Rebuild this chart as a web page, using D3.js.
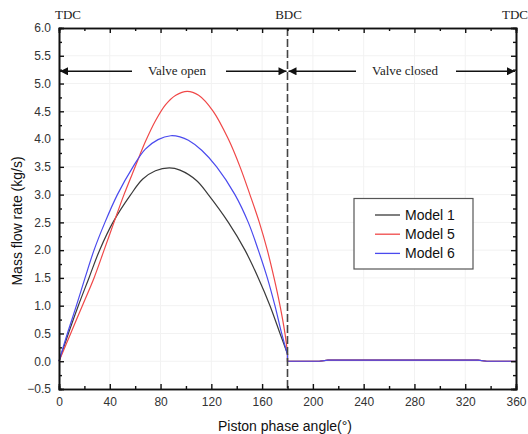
<!DOCTYPE html>
<html><head><meta charset="utf-8">
<script src="https://cdn.jsdelivr.net/npm/d3@7"></script>
<style>body{margin:0;background:#fff}svg{display:block}</style>
</head><body>
<svg id="c" width="528" height="434"></svg>
<script>
// ---- data (angle in degrees, mass flow rate in kg/s) ----
const model1 = [[0,0],[7.4,0.5],[15.2,1.0],[23.6,1.5],[32,2.0],[42.5,2.5],[56.5,3.0],[66,3.28],[76,3.43],[87,3.48],[95.3,3.44],[108.5,3.25],[117.6,3.0],[133.4,2.5],[146.5,2.0],[157,1.5],[166.2,1.0],[174.1,0.5],[180,0.13]];
const model5 = [[0,0],[9.2,0.5],[18.4,1.0],[27.6,1.5],[35.5,2.0],[43.3,2.5],[51.2,3.0],[60,3.5],[68,3.95],[76,4.33],[84,4.62],[92,4.79],[101,4.86],[110,4.79],[121.5,4.5],[133.4,4.0],[142.6,3.5],[150.4,3.0],[157.8,2.5],[164.1,2.0],[169.4,1.5],[174.1,1.0],[178,0.5],[180,0.15]];
const model6 = [[0,0],[6.6,0.5],[13.7,1.0],[20.5,1.5],[27.6,2.0],[36.2,2.5],[46,3.0],[58.3,3.5],[68,3.82],[78,3.99],[88,4.06],[95.3,4.04],[101.9,3.98],[112.4,3.8],[124.2,3.5],[138.6,3.0],[149.1,2.5],[157,2.0],[164.1,1.5],[170.1,1.0],[175.4,0.5],[180,0.12]];
const closedPhase = [[180,0],[205,0],[212,0.02],[330,0.02],[337,0],[360,0]];
const seriesNames = ["Model 1","Model 5","Model 6"];
const seriesColors = ["#3a3a3a","#f04848","#4a4aee"];
const xTicks = [0,40,80,120,160,200,240,280,320,360];
const yTicks = [-0.5,0,0.5,1,1.5,2,2.5,3,3.5,4,4.5,5,5.5,6];
const xDomain = [0,360], yDomain = [-0.5,6];
const bdcAngle = 180, arrowLevel = 5.22;

// ---- layout ----
const W=528,H=434, m={l:59,r:12,t:28,b:45};
const svg=d3.select("#c");
const x=d3.scaleLinear().domain(xDomain).range([m.l,W-m.r]);
const y=d3.scaleLinear().domain(yDomain).range([H-m.b,m.t]);
const sans="'Liberation Sans', Arial, sans-serif", serif="'Liberation Serif','Times New Roman',serif";

// faint grid
const g=svg.append("g");
g.selectAll("line.gx").data(xTicks.slice(1,-1)).join("line").attr("x1",d=>x(d)).attr("x2",d=>x(d)).attr("y1",m.t).attr("y2",H-m.b).attr("stroke","#f2f2f2");
g.selectAll("line.gy").data(yTicks.slice(1,-1)).join("line").attr("y1",d=>y(d)).attr("y2",d=>y(d)).attr("x1",m.l).attr("x2",W-m.r).attr("stroke","#f2f2f2");

const xMinor=d3.range(20,360,40), yMinor=d3.range(-0.25,6,0.5);
function axisSet(){
  const ax=svg.append("g");
  ax.append("g").attr("transform",`translate(0,${H-m.b})`).call(d3.axisBottom(x).tickValues(xTicks).tickSize(-5).tickPadding(8).tickFormat(d3.format("d")));
  ax.append("g").attr("transform",`translate(0,${H-m.b})`).call(d3.axisBottom(x).tickValues(xMinor).tickSize(-3).tickFormat(""));
  ax.append("g").attr("transform",`translate(0,${m.t})`).call(d3.axisTop(x).tickValues(xTicks).tickSize(-5).tickFormat(""));
  ax.append("g").attr("transform",`translate(0,${m.t})`).call(d3.axisTop(x).tickValues(xMinor).tickSize(-3).tickFormat(""));
  ax.append("g").attr("transform",`translate(${m.l},0)`).call(d3.axisLeft(y).tickValues(yTicks).tickSize(-5).tickPadding(8).tickFormat(d3.format(".1f")));
  ax.append("g").attr("transform",`translate(${m.l},0)`).call(d3.axisLeft(y).tickValues(yMinor).tickSize(-3).tickFormat(""));
  ax.append("g").attr("transform",`translate(${W-m.r},0)`).call(d3.axisRight(y).tickValues(yTicks).tickSize(-5).tickFormat(""));
  ax.append("g").attr("transform",`translate(${W-m.r},0)`).call(d3.axisRight(y).tickValues(yMinor).tickSize(-3).tickFormat(""));
  ax.selectAll(".domain").attr("stroke","#111").attr("stroke-width",1.6);
  ax.selectAll(".tick line").attr("stroke","#111").attr("stroke-width",1.4);
  ax.selectAll(".tick text").attr("font-family",sans).attr("font-size",12).attr("fill","#333");
}

// curves
const line=d3.line().x(d=>x(d[0])).y(d=>y(d[1])).curve(d3.curveCatmullRom.alpha(0.5));
const lin=d3.line().x(d=>x(d[0])).y(d=>y(d[1]));
[model1,model5,model6].forEach((s,i)=>{
  svg.append("path").attr("d",line(s)).attr("fill","none").attr("stroke",seriesColors[i]).attr("stroke-width",1.2);
  svg.append("path").attr("d",lin([s[s.length-1]].concat(closedPhase))).attr("fill","none").attr("stroke",seriesColors[i]).attr("stroke-width",1.2);
});

// BDC dashed line
svg.append("line").attr("x1",x(bdcAngle)).attr("x2",x(bdcAngle)).attr("y1",m.t).attr("y2",H-m.b)
  .attr("stroke","#444").attr("stroke-width",1.6).attr("stroke-dasharray","8,3");

axisSet();

// arrows
const defs=svg.append("defs");
defs.append("marker").attr("id","ah").attr("viewBox","0 0 10 10").attr("refX",10).attr("refY",5)
  .attr("markerWidth",9).attr("markerHeight",8).attr("markerUnits","userSpaceOnUse").attr("orient","auto-start-reverse")
  .append("path").attr("d","M0,0L10,5L0,10z").attr("fill","#111");
const ay=y(arrowLevel);
function arrowLine(x1,x2,start){
  const l=svg.append("line").attr("x1",x1).attr("x2",x2).attr("y1",ay).attr("y2",ay).attr("stroke","#111").attr("stroke-width",1.6);
  if(start) l.attr("marker-start","url(#ah)"); else l.attr("marker-end","url(#ah)");
}
arrowLine(x(0)+1,132,true); arrowLine(226,x(bdcAngle)-1,false);
arrowLine(x(bdcAngle)+1,356,true); arrowLine(456,x(360)-1,false);
svg.append("text").attr("x",177).attr("y",ay+4).attr("text-anchor","middle").attr("font-family",serif).attr("font-size",13).attr("fill","#222").text("Valve open");
svg.append("text").attr("x",405).attr("y",ay+4).attr("text-anchor","middle").attr("font-family",serif).attr("font-size",13).attr("fill","#222").text("Valve closed");
svg.append("text").attr("x",55).attr("y",19).attr("font-family",serif).attr("font-size",13).attr("fill","#222").text("TDC");
svg.append("text").attr("x",x(bdcAngle)+1).attr("y",19).attr("text-anchor","middle").attr("font-family",serif).attr("font-size",13).attr("fill","#222").text("BDC");
svg.append("text").attr("x",528).attr("y",19).attr("text-anchor","end").attr("font-family",serif).attr("font-size",13).attr("fill","#222").text("TDC");

// legend
const lg=svg.append("g");
lg.append("rect").attr("x",354).attr("y",198.5).attr("width",119).attr("height",70.5).attr("fill","#fff").attr("stroke","#555").attr("stroke-width",1.2);
seriesNames.forEach((n,i)=>{
  const yy=215+i*19.2;
  lg.append("line").attr("x1",375).attr("x2",400).attr("y1",yy).attr("y2",yy).attr("stroke",seriesColors[i]).attr("stroke-width",1.3);
  lg.append("text").attr("x",405).attr("y",yy+5).attr("font-family",sans).attr("font-size",14).attr("fill","#111").text(n);
});

// axis titles
svg.append("text").attr("transform","translate(22,221) rotate(-90)").attr("text-anchor","middle").attr("font-family",sans).attr("font-size",14).attr("fill","#111").text("Mass flow rate (kg/s)");
svg.append("text").attr("x",285).attr("y",431).attr("text-anchor","middle").attr("font-family",sans).attr("font-size",14).attr("fill","#111").text("Piston phase angle(°)");
</script>
</body></html>
